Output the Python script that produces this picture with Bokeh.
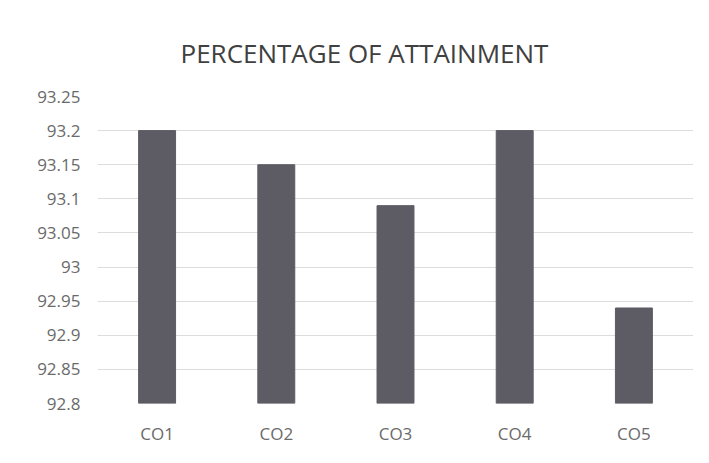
from bokeh.plotting import figure
from bokeh.models import ColumnDataSource, FixedTicker, Range1d
from bokeh.embed import file_html
from bokeh.resources import INLINE

categories = ["CO1", "CO2", "CO3", "CO4", "CO5"]
attainment = [93.2, 93.15, 93.09, 93.2, 92.94]
y_ticks = [92.8, 92.85, 92.9, 92.95, 93.0, 93.05, 93.1, 93.15, 93.2, 93.25]
y_tick_labels = ["92.8", "92.85", "92.9", "92.95", "93", "93.05", "93.1", "93.15", "93.2", "93.25"]

source = ColumnDataSource(data=dict(cat=categories, val=attainment))

p = figure(x_range=categories, y_range=Range1d(92.8, 93.25),
           width=693, height=447, output_backend="svg", toolbar_location=None,
           min_border_left=97, min_border_right=0, min_border_top=96, min_border_bottom=44,
           title="PERCENTAGE OF ATTAINMENT")

p.vbar(x="cat", top="val", bottom=92.8, width=0.31, source=source,
       fill_color="#5d5c65", line_color="#5d5c65")

p.title.align = "left"
p.title.text_font = "Open Sans"
p.title.text_font_size = "26px"
p.title.text_font_style = "normal"
p.title.text_color = "#404040"
p.title.offset = 83
p.title.standoff = 51

p.background_fill_color = "#ffffff"
p.border_fill_color = "#ffffff"
p.outline_line_color = None

p.yaxis.ticker = FixedTicker(ticks=y_ticks)
p.yaxis.major_label_overrides = {t: l for t, l in zip(y_ticks, y_tick_labels)}
p.ygrid.ticker = FixedTicker(ticks=y_ticks)
p.ygrid.grid_line_color = "#dcdcdc"
p.xgrid.grid_line_color = None

for ax in (p.xaxis, p.yaxis):
    ax.axis_line_color = None
    ax.major_tick_line_color = None
    ax.minor_tick_line_color = None
    ax.major_tick_out = 0
    ax.major_tick_in = 0
    ax.minor_tick_out = 0
    ax.minor_tick_in = 0
    ax.major_label_text_font = "Open Sans"
    ax.major_label_text_font_size = "17px"
    ax.major_label_text_color = "#6a6a6a"

p.yaxis.major_label_standoff = 17
p.xaxis.major_label_standoff = 18

open("out.html", "w").write(file_html(p, INLINE))
